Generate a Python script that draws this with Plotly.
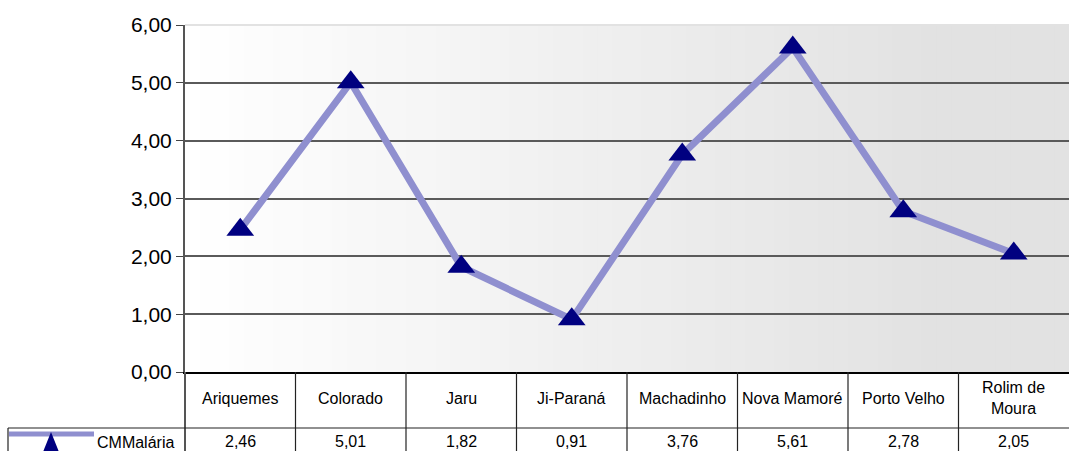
import plotly.graph_objects as go

# Dados: coeficiente de mortalidade por malária por município
municipios = ["Ariquemes", "Colorado", "Jaru", "Ji-Paraná", "Machadinho",
              "Nova Mamoré", "Porto Velho", "Rolim de<br>Moura"]
cm_malaria = [2.46, 5.01, 1.82, 0.91, 3.76, 5.61, 2.78, 2.05]
serie_nome = "CMMalária"
y_ticks = [0, 1, 2, 3, 4, 5, 6]

# Geometria da figura (pixels)
W, H = 1069, 451
ML, MT, MB, MR = 185, 25, 79, 0
plot_w = W - ML - MR
plot_h = H - MT - MB

LINE_COLOR = "#8f8fcf"
MARKER_COLOR = "#000080"
FONT = "Liberation Sans, Arial, sans-serif"


def px_x(px):
    return (px - ML) / plot_w


def px_y(py):
    return (H - MB - py) / plot_h


x_idx = list(range(len(municipios)))
n = len(municipios)

shapes = []

# Fundo em degradê horizontal (branco -> cinza claro)
steps = 60
for i in range(steps):
    f0 = i / steps
    f1 = (i + 1) / steps
    t = min((f0 + f1) / 2 / 0.85, 1.0)
    v = round(255 - 29 * t)
    shapes.append(dict(type="rect", xref="paper", yref="paper",
                       x0=f0, x1=f1 + 0.001, y0=0, y1=1,
                       fillcolor=f"rgb({v},{v},{v})", line_width=0,
                       layer="below"))

# Linha superior clara no topo da área de plotagem
shapes.append(dict(type="line", xref="paper", yref="paper",
                   x0=0, x1=1, y0=1, y1=1,
                   line=dict(color="#e2e2e2", width=2), layer="between"))

# Tabela de dados sob o gráfico
y_tab_top = 0
y_row2 = px_y(428)
y_tab_bot = px_y(452)
for k in range(0, n):
    xk = k / n
    shapes.append(dict(type="line", xref="paper", yref="paper",
                       x0=xk, x1=xk, y0=y_tab_top, y1=y_tab_bot,
                       line=dict(color="#222222" if k else "#555555",
                                 width=1.2 if k else 2)))
shapes.append(dict(type="line", xref="paper", yref="paper",
                   x0=px_x(8), x1=1, y0=y_row2, y1=y_row2,
                   line=dict(color="#222222", width=1.2)))
shapes.append(dict(type="line", xref="paper", yref="paper",
                   x0=px_x(8), x1=px_x(8), y0=y_row2, y1=y_tab_bot,
                   line=dict(color="#222222", width=1.2)))

# Chave da legenda na tabela
shapes.append(dict(type="line", xref="paper", yref="paper",
                   x0=px_x(9), x1=px_x(94), y0=px_y(434), y1=px_y(434),
                   line=dict(color=LINE_COLOR, width=5)))
tri = [(51, 432), (59, 452), (43, 452)]
path = "M " + " L ".join(f"{px_x(a)},{px_y(b)}" for a, b in tri) + " Z"
shapes.append(dict(type="path", xref="paper", yref="paper", path=path,
                   fillcolor=MARKER_COLOR, line=dict(width=0)))

annotations = []
for i, (nome, val) in enumerate(zip(municipios, cm_malaria)):
    xc = (i + 0.5) / n
    annotations.append(dict(xref="paper", yref="paper", x=xc, y=px_y(398),
                            text=nome, showarrow=False, xanchor="center",
                            yanchor="middle",
                            font=dict(size=16, color="black", family=FONT)))
    annotations.append(dict(xref="paper", yref="paper", x=xc, y=px_y(441),
                            text=f"{val:.2f}".replace(".", ","),
                            showarrow=False, xanchor="center",
                            yanchor="middle",
                            font=dict(size=16, color="black", family=FONT)))
annotations.append(dict(xref="paper", yref="paper", x=px_x(95), y=px_y(442),
                        text=serie_nome, showarrow=False, xanchor="left",
                        yanchor="middle",
                        font=dict(size=16, color="black", family=FONT)))

fig = go.Figure()
fig.add_trace(go.Scatter(
    x=x_idx, y=cm_malaria, mode="lines+markers", name=serie_nome,
    line=dict(color=LINE_COLOR, width=7),
    marker=dict(symbol="triangle-up", size=24, color=MARKER_COLOR,
                line=dict(width=0)),
    cliponaxis=False,
))

fig.update_layout(
    width=W, height=H,
    margin=dict(l=ML, r=MR, t=MT, b=MB, pad=0),
    paper_bgcolor="white", plot_bgcolor="white",
    separators=",.",
    showlegend=False,
    font=dict(family=FONT, color="black"),
    shapes=shapes,
    annotations=annotations,
    xaxis=dict(range=[-0.5, n - 0.5], showgrid=False, zeroline=False,
               showticklabels=False, ticks="",
               showline=True, linecolor="black", linewidth=1.5),
    yaxis=dict(range=[0, 6], tickvals=y_ticks, tickformat=".2f",
               showgrid=True, gridcolor="#5a5a5a", gridwidth=1.5,
               zeroline=False, showline=True, linecolor="#555555",
               linewidth=2, ticks="outside", ticklen=7, tickcolor="#444444",
               tickfont=dict(size=21, color="black", family=FONT)),
)

fig.write_html("out.html")
